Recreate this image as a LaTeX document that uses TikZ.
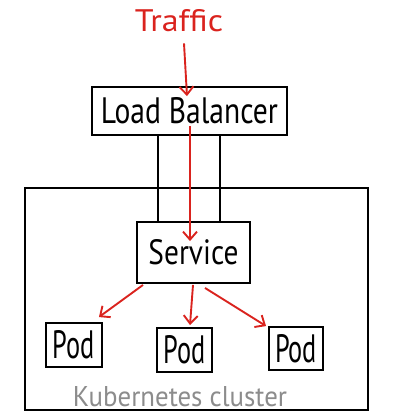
\documentclass[tikz,border=0pt]{standalone}
\usepackage{fontspec}
\setmainfont{PT Sans}
\usepackage{graphicx}
\usetikzlibrary{arrows.meta}
\definecolor{arrowred}{RGB}{218,35,30}
\definecolor{labelgray}{RGB}{140,140,140}
\tikzset{
  box/.style={draw=black, line width=1.9pt, inner sep=0pt, rectangle},
  flow/.style={draw=arrowred, line width=1.9pt, -{Straight Barb[length=8pt,width=14pt]}},
  wire/.style={draw=black, line width=1.6pt},
}
\newcommand{\hwtext}[3]{\resizebox{#1}{#2}{#3}}
\begin{document}
\begin{tikzpicture}[x=1pt,y=-1pt]
\useasboundingbox (0,0) rectangle (413,418);
\node[box, minimum width=343pt, minimum height=222pt] (cluster) at (196.5,299) {};
\node[box, fill=white, minimum width=195pt, minimum height=48pt] (lb) at (189.5,111) {\hwtext{177pt}{26pt}{Load Balancer}};
\node[box, fill=white, minimum width=113pt, minimum height=61pt] (svc) at (193.5,252.5) {\hwtext{90pt}{25pt}{Service}};
\node[box, minimum width=56pt, minimum height=44pt] (pod1) at (74,345) {\hwtext{42pt}{28pt}{Pod}};
\node[box, minimum width=55pt, minimum height=44pt] (pod2) at (184.5,350) {\hwtext{42pt}{28pt}{Pod}};
\node[box, minimum width=54pt, minimum height=43pt] (pod3) at (296,348.5) {\hwtext{42pt}{28pt}{Pod}};
\node[inner sep=0pt, text=arrowred] (traffic) at (179,21) {\hwtext{88pt}{22pt}{Traffic}};
\node[inner sep=0pt, text=labelgray] (clusterlabel) at (180,397) {\hwtext{214pt}{20pt}{Kubernetes cluster}};
% wires between load balancer and service
\draw[wire] ([xshift=-31.5pt]lb.south) -- ([xshift=-35.5pt]svc.north);
\draw[wire] ([xshift=30.5pt]lb.south) -- ([xshift=26.5pt]svc.north);
% traffic flow
\draw[flow] ([xshift=5pt,yshift=-11pt]traffic.south) -- ([xshift=-2.5pt,yshift=-10pt]lb.north);
\draw[flow] ([xshift=0.5pt,yshift=10pt]lb.south) -- ([xshift=-3.5pt,yshift=-20pt]svc.north);
\draw[flow] ([xshift=-50.5pt,yshift=-1pt]svc.south) -- ([xshift=-4pt,yshift=5pt]pod1.north east);
\draw[flow] ([xshift=-0.5pt,yshift=-1pt]svc.south) -- ([xshift=5.5pt,yshift=2pt]pod2.north);
\draw[flow] ([xshift=11.5pt,yshift=-4pt]svc.south) -- ([xshift=-2pt]pod3.north west);
\end{tikzpicture}
\end{document}
